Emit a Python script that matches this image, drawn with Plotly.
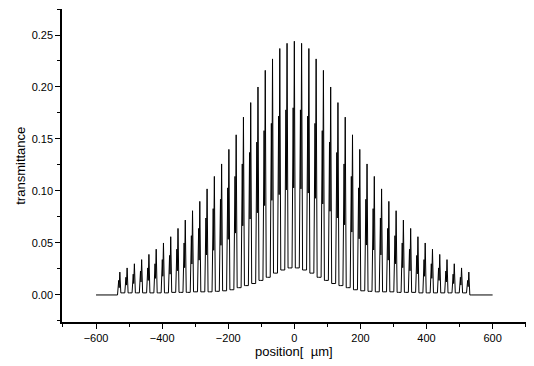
import plotly.graph_objects as go

# ---- data ----
peak_pos = [-528, -506, -484, -462, -440, -418, -396, -374, -352, -330, -308, -286, -264,
            -242, -220, -198, -176, -154, -132, -110, -88, -66, -44, -22, 0,
            22, 44, 66, 88, 110, 132, 154, 176, 198, 220, 242, 264, 286, 308, 330,
            352, 374, 396, 418, 440, 462, 484, 506, 528]

main_half = [0.244, 0.242, 0.237, 0.227, 0.216, 0.200, 0.185, 0.171, 0.154, 0.140,
             0.126, 0.114, 0.102, 0.090, 0.081, 0.072, 0.064, 0.056, 0.050, 0.044,
             0.039, 0.034, 0.030, 0.026, 0.022]
side_half = [0.180, 0.178, 0.172, 0.165, 0.158, 0.147, 0.137, 0.126, 0.114, 0.103,
             0.092, 0.083, 0.074, 0.064, 0.057, 0.050, 0.044, 0.038, 0.034, 0.030,
             0.026, 0.023, 0.020, 0.017, 0.014]
main_peak = main_half[::-1] + main_half[1:]
side_peak = side_half[::-1] + side_half[1:]

valley_pos = [-539, -517, -495, -473, -451, -429, -407, -385, -363, -341, -319, -297, -275,
              -253, -231, -209, -187, -165, -143, -121, -99, -77, -55, -33, -11,
              11, 33, 55, 77, 99, 121, 143, 165, 187, 209, 231, 253, 275, 297, 319,
              341, 363, 385, 407, 429, 451, 473, 495, 517, 539]
valley_half = [0.026, 0.024, 0.021, 0.017, 0.014, 0.011, 0.009, 0.007, 0.005, 0.004,
               0.0035, 0.003, 0.003, 0.003, 0.0025, 0.0025, 0.0025, 0.002, 0.002, 0.002,
               0.002, 0.002, 0.002, 0.002, 0.0]
valley_floor = valley_half[::-1] + valley_half

flat_x = [-600, 600]
flat_y = [0.0, 0.0]

x_ticks = [-600, -400, -200, 0, 200, 400, 600]
y_ticks = [0.00, 0.05, 0.10, 0.15, 0.20, 0.25]
y_ticktext = ["0.00", "0.05", "0.10", "0.15", "0.20", "0.25"]

x_title = "position[  µm]"
y_title = "transmittance"

# ---- build the trace polyline from the data ----
xs = [flat_x[0]]
ys = [flat_y[0]]
for i, c in enumerate(peak_pos):
    fl = valley_floor[i]
    fr = valley_floor[i + 1]
    xs += [valley_pos[i], c - 7, c - 3.5, c - 2, c, c + 3, c + 7]
    ys += [fl, fl, side_peak[i], (side_peak[i] + fl) / 2, main_peak[i], fr, fr]
xs += [valley_pos[-1], flat_x[1]]
ys += [valley_floor[-1], flat_y[1]]

fig = go.Figure()
fig.add_trace(go.Scatter(x=xs, y=ys, mode="lines",
                         line=dict(color="black", width=1), hoverinfo="skip"))

font = dict(family="Liberation Sans, Arial, sans-serif", color="black")
# the page body adds an 8px offset, so the figure is sized to the remaining area
fig.update_layout(
    width=526, height=358,
    margin=dict(l=54, r=8, t=1, b=44),
    paper_bgcolor="white", plot_bgcolor="white",
    showlegend=False,
    font=dict(**font, size=11),
    annotations=[
        dict(text=x_title, xref="paper", yref="paper", x=0.5, y=-0.095,
             xanchor="center", yanchor="middle", showarrow=False,
             font=dict(**font, size=13)),
        dict(text=y_title, xref="paper", yref="paper", x=-0.09, y=0.5,
             xanchor="center", yanchor="middle", showarrow=False, textangle=-90,
             font=dict(**font, size=13)),
    ],
)
fig.update_xaxes(
    range=[-703, 701], tickvals=x_ticks, ticks="outside", ticklen=5, tickwidth=1.2,
    tickcolor="black", showline=True, linecolor="black", linewidth=1.5,
    showgrid=False, zeroline=False, automargin=False,
    minor=dict(ticks="outside", ticklen=3, dtick=100, tick0=0, tickcolor="black", showgrid=False),
    tickfont=dict(**font, size=11),
)
fig.update_yaxes(
    range=[-0.026, 0.275], tickvals=y_ticks, ticktext=y_ticktext, ticks="outside",
    ticklen=5, tickwidth=1.2, tickcolor="black", showline=True, linecolor="black",
    linewidth=1.5, showgrid=False, zeroline=False, automargin=False,
    minor=dict(ticks="outside", ticklen=3, dtick=0.025, tick0=0, tickcolor="black", showgrid=False),
    tickfont=dict(**font, size=11),
)
fig.write_html("out.html")
